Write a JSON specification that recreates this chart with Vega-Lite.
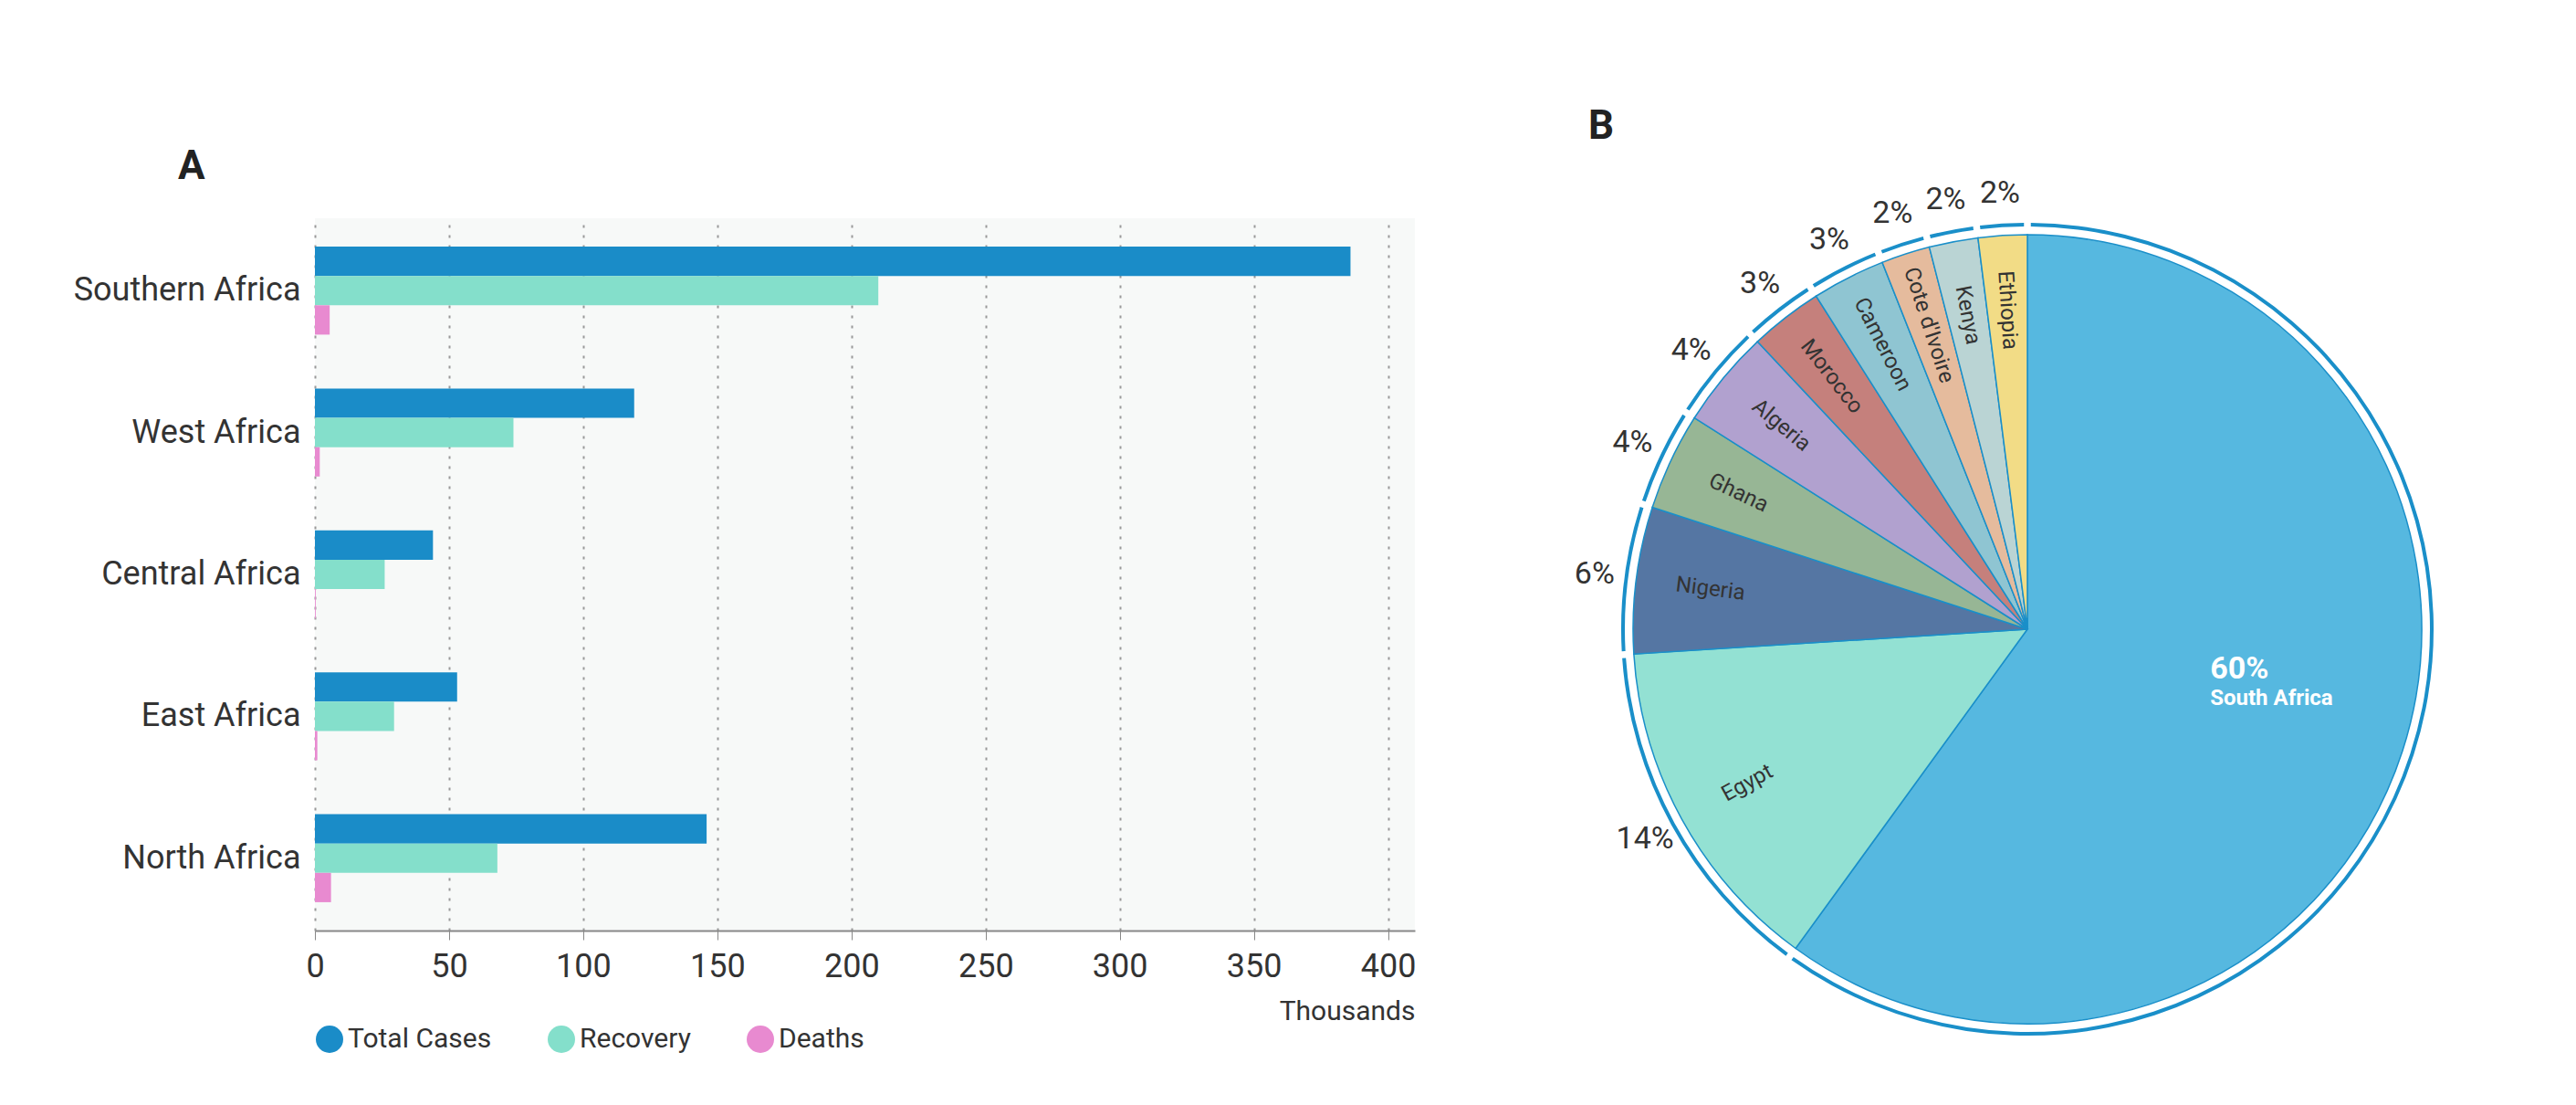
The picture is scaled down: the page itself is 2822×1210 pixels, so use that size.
{
  "$schema": "https://vega.github.io/schema/vega-lite/v6.json",
  "background": "white",
  "padding": {"left": 80, "top": 116, "right": 40, "bottom": 20},
  "config": {
    "font": "Roboto",
    "view": {"stroke": null},
    "title": {"fontSize": 44, "fontWeight": "bold", "anchor": "start", "color": "#222", "frame": "group"}
  },
  "spacing": 170,
  "resolve": {"scale": {"color": "independent"}, "legend": {"color": "independent"}},
  "hconcat": [
    {
      "title": {"text": "A", "offset": 34, "dx": -150},
      "width": 1205,
      "height": 780,
      "view": {"fill": "#f7f9f8"},
      "data": {"values": [
        {"region": "Southern Africa", "type": "Total Cases", "k": 1, "value": 386},
        {"region": "Southern Africa", "type": "Recovery", "k": 2, "value": 210},
        {"region": "Southern Africa", "type": "Deaths", "k": 3, "value": 5.5},
        {"region": "West Africa", "type": "Total Cases", "k": 1, "value": 119},
        {"region": "West Africa", "type": "Recovery", "k": 2, "value": 74},
        {"region": "West Africa", "type": "Deaths", "k": 3, "value": 1.8},
        {"region": "Central Africa", "type": "Total Cases", "k": 1, "value": 44},
        {"region": "Central Africa", "type": "Recovery", "k": 2, "value": 26},
        {"region": "Central Africa", "type": "Deaths", "k": 3, "value": 0.3},
        {"region": "East Africa", "type": "Total Cases", "k": 1, "value": 53},
        {"region": "East Africa", "type": "Recovery", "k": 2, "value": 29.5},
        {"region": "East Africa", "type": "Deaths", "k": 3, "value": 0.9},
        {"region": "North Africa", "type": "Total Cases", "k": 1, "value": 146},
        {"region": "North Africa", "type": "Recovery", "k": 2, "value": 68},
        {"region": "North Africa", "type": "Deaths", "k": 3, "value": 6}
      ]},
      "mark": {"type": "bar"},
      "encoding": {
        "y": {"field": "region", "type": "nominal", "sort": ["Southern Africa", "West Africa", "Central Africa", "East Africa", "North Africa"],
          "scale": {"paddingInner": 0.38, "paddingOuter": 0.2},
          "axis": {"title": null, "domain": false, "ticks": false, "labelFontSize": 36, "labelColor": "#333", "labelPadding": 16, "labelLimit": 0}},
        "yOffset": {"field": "k", "type": "ordinal", "scale": {"paddingInner": 0}},
        "x": {"field": "value", "type": "quantitative", "scale": {"domain": [0, 410], "nice": false},
          "axis": {"values": [0, 50, 100, 150, 200, 250, 300, 350, 400], "title": "Thousands", "titleAnchor": "end", "titleAlign": "right", "titleFontSize": 30, "titleFontWeight": "normal", "titleColor": "#333", "titlePadding": 16,
            "labelFontSize": 36, "labelColor": "#333", "labelPadding": 12, "ticks": true, "tickColor": "#888", "tickSize": 10, "domainColor": "#888", "domainWidth": 2,
            "grid": true, "gridDash": [3, 8], "gridColor": "#999", "gridWidth": 2, "labelFlush": false}},
        "color": {"field": "type", "type": "nominal", "sort": ["Total Cases", "Recovery", "Deaths"],
          "scale": {"domain": ["Total Cases", "Recovery", "Deaths"], "range": ["#1a8cc8", "#84dfcb", "#e88ad0"]},
          "legend": {"orient": "bottom", "direction": "horizontal", "title": null, "symbolType": "circle", "symbolSize": 900, "labelFontSize": 30, "labelColor": "#333", "columnPadding": 60, "offset": 0}}
      }
    },
    {
      "title": {"text": "B", "offset": 34, "dx": 19},
      "width": 1000,
      "height": 900,
      "data": {"values": [
        {"country": "South Africa", "o": 1, "pct": 60},
        {"country": "Egypt", "o": 2, "pct": 14},
        {"country": "Nigeria", "o": 3, "pct": 6},
        {"country": "Ghana", "o": 4, "pct": 4},
        {"country": "Algeria", "o": 5, "pct": 4},
        {"country": "Morocco", "o": 6, "pct": 3},
        {"country": "Cameroon", "o": 7, "pct": 3},
        {"country": "Cote d'Ivoire", "o": 8, "pct": 2},
        {"country": "Kenya", "o": 9, "pct": 2},
        {"country": "Ethiopia", "o": 10, "pct": 2}
      ]},
      "transform": [
        {"window": [{"op": "sum", "field": "pct", "as": "cum"}], "sort": [{"field": "o"}]},
        {"calculate": "((datum.cum - datum.pct / 2) * 3.6 + 90) % 360", "as": "ang"},
        {"calculate": "datum.country == 'South Africa' ? '' : datum.pct + '%'", "as": "lblOut"},
        {"calculate": "datum.country == 'South Africa' ? '' : datum.country", "as": "nameIn"},
        {"calculate": "datum.country == 'South Africa' ? datum.pct + '%' : ''", "as": "saPct"},
        {"calculate": "datum.country == 'South Africa' ? datum.country : ''", "as": "saName"}
      ],
      "encoding": {
        "theta": {"field": "pct", "type": "quantitative", "stack": true},
        "order": {"field": "o", "type": "quantitative"}
      },
      "layer": [
        {
          "mark": {"type": "arc", "radius": 432, "stroke": "#1a8fc9", "strokeWidth": 1.5},
          "encoding": {
            "color": {"field": "country", "type": "nominal", "legend": null,
              "scale": {"domain": ["South Africa", "Egypt", "Nigeria", "Ghana", "Algeria", "Morocco", "Cameroon", "Cote d'Ivoire", "Kenya", "Ethiopia"],
                "range": ["#56b8e0", "#93e1d3", "#5576a3", "#97b695", "#b1a1cf", "#c5807c", "#8fc5d2", "#e5bb9d", "#bad4d4", "#f2dc86"]}}
          }
        },
        {
          "mark": {"type": "arc", "radius": 445, "radius2": 441, "padAngle": 0.012, "color": "#1a8fc9"}
        },
        {
          "mark": {"type": "text", "radius": 478, "fontSize": 34, "color": "#333"},
          "encoding": {"text": {"field": "lblOut"}}
        },
        {
          "mark": {"type": "text", "radius": 350, "fontSize": 24, "color": "#333"},
          "encoding": {"text": {"field": "nameIn"}, "angle": {"field": "ang", "type": "quantitative", "scale": null}}
        },
        {
          "mark": {"type": "text", "radius": 200, "dy": -18, "dx": 10, "align": "left", "fontSize": 34, "fontWeight": "bold", "color": "white"},
          "encoding": {"text": {"field": "saPct"}}
        },
        {
          "mark": {"type": "text", "radius": 200, "dy": 14, "dx": 10, "align": "left", "fontSize": 24, "fontWeight": "bold", "color": "white"},
          "encoding": {"text": {"field": "saName"}}
        }
      ]
    }
  ]
}
